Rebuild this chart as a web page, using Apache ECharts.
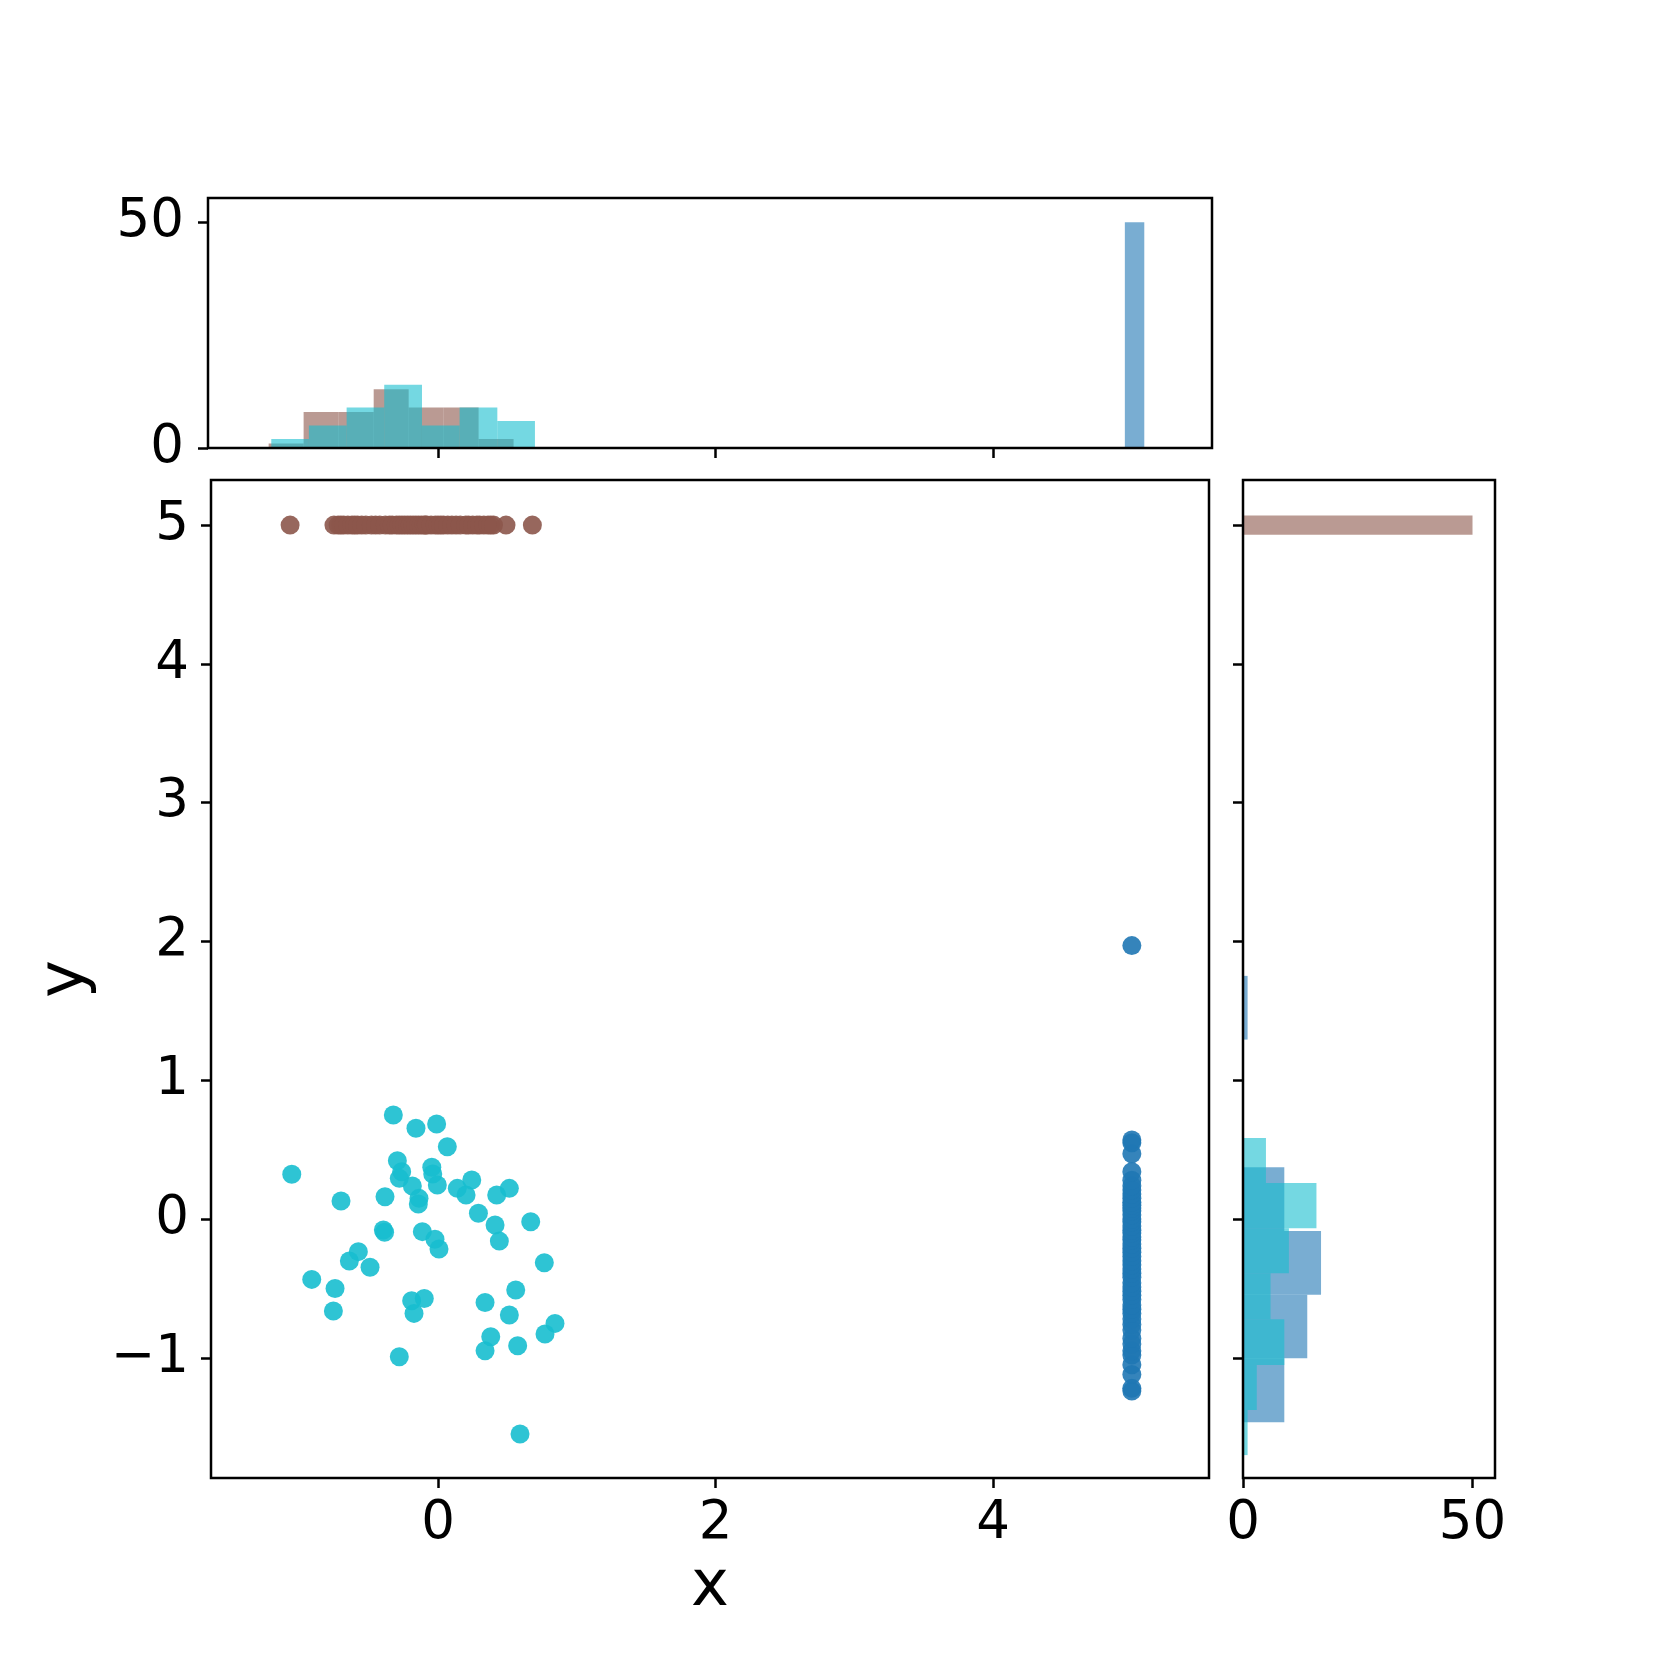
<!DOCTYPE html>
<html>
<head>
<meta charset="utf-8">
<script src="https://cdn.jsdelivr.net/npm/echarts@6/dist/echarts.min.js"></script>
<style>
html,body{margin:0;padding:0;background:#fff;}
#chart{width:1661px;height:1661px;}
</style>
</head>
<body>
<div id="chart"></div>
<script>
// ---------- data ----------
const brownX = [-1.066,
  -0.75,-0.72,-0.70,-0.68,-0.65,-0.62,-0.60,-0.58,
  -0.55,-0.52,-0.48,-0.45,-0.42,-0.38,-0.35,-0.33,
  -0.30,-0.28,-0.26,-0.24,-0.22,-0.20,-0.18,-0.16,-0.14,-0.12,-0.10,-0.09,-0.08,
  -0.05,-0.02,0.00,0.02,0.04,0.07,0.10,0.13,0.16,
  0.20,0.22,0.25,0.28,0.30,0.33,0.36,0.38,0.40,
  0.49,0.68];
const brownYValue = 5;

const tealX = [-0.322,-0.159,-0.010,0.067,-1.054,-0.293,-0.262,-0.279,-0.185,-0.137,
  -0.142,-0.045,-0.038,-0.005,0.139,0.202,0.243,0.423,0.514,-0.699,
  -0.382,0.291,0.411,0.442,0.668,-0.394,-0.385,-0.113,-0.022,0.007,
  -0.574,-0.639,-0.490,-0.910,-0.742,-0.754,-0.190,-0.099,-0.173,0.766,
  0.560,0.339,0.514,0.843,0.771,0.380,0.339,0.574,-0.279,0.591];
const tealY = [0.749,0.654,0.685,0.521,0.322,0.420,0.341,0.293,0.238,0.149,
  0.108,0.373,0.324,0.245,0.221,0.173,0.281,0.173,0.221,0.130,
  0.161,0.041,-0.043,-0.159,-0.019,-0.079,-0.095,-0.091,-0.146,-0.216,
  -0.235,-0.303,-0.348,-0.435,-0.500,-0.663,-0.589,-0.572,-0.680,-0.315,
  -0.512,-0.601,-0.692,-0.752,-0.829,-0.848,-0.949,-0.913,-0.992,-1.549];

const blueXValue = 5.0;
const blueY = [-1.24,-1.22,-1.12,-1.05,-0.98,-0.95,-0.90,-0.86,-0.80,
  -0.76,-0.72,-0.68,-0.65,-0.62,-0.58,-0.55,-0.52,-0.49,-0.46,-0.42,-0.39,-0.36,-0.33,
  -0.30,-0.27,-0.24,-0.21,-0.18,-0.15,-0.13,-0.10,-0.08,-0.05,-0.02,0.00,0.03,0.06,0.08,0.10,0.12,
  0.15,0.18,0.21,0.24,0.28,0.34,0.47,0.55,0.57,
  1.97];

// marginal histograms (bin edges + counts)
const topBrownEdges = [-1.220,-0.968,-0.716,-0.463,-0.211,0.041,0.293,0.545];
const topBrownCounts = [1,8,8,13,9,9,2];
const topTealEdges = [-1.201,-0.930,-0.658,-0.387,-0.115,0.156,0.428,0.699];
const topTealCounts = [2,5,9,14,5,9,6];
const topBlueEdges = [4.95,5.09];
const topBlueCounts = [50];

const rightBrownEdges = [4.93,5.07];
const rightBrownCounts = [50];
const rightTealEdges = [-1.701,-1.376,-1.052,-0.723,-0.391,-0.067,0.260,0.584];
const rightTealCounts = [1,3,9,6,10,16,5];
const rightBlueEdges = [-1.465,-1.004,-0.546,-0.086,0.373,0.833,1.293,1.752];
const rightBlueCounts = [9,14,17,9,0,0,1];

const mainXTicks = [0,2,4];
const mainYTicks = [-1,0,1,2,3,4,5];
const countTicks = [0,50];

// ---------- styling ----------
const C_BROWN = '#8c564b', C_TEAL = '#17becf', C_BLUE = '#1f77b4';
const FONT = 'DejaVu Sans';
const TICK_FS = 53, LABEL_FS = 64;
const LW = 2.5;
const fmt = v => String(v).replace('-', '\u2212');

function bins(edges, counts){
  const out = [];
  for (let i = 0; i < counts.length; i++) {
    if (counts[i] > 0) out.push([edges[i], edges[i+1], counts[i]]);
  }
  return out;
}
function vHist(xi, yi, data, color, z){
  return {
    type:'custom', xAxisIndex:xi, yAxisIndex:yi, z:z, clip:true,
    encode:{x:[0,1], y:2},
    data:data,
    renderItem:function(params, api){
      const p0 = api.coord([api.value(0), 0]);
      const p1 = api.coord([api.value(1), api.value(2)]);
      return {type:'rect', shape:{x:p0[0], y:p1[1], width:p1[0]-p0[0], height:p0[1]-p1[1]},
        style:{fill:color, opacity:0.6}};
    }
  };
}
function hHist(xi, yi, data, color, z){
  return {
    type:'custom', xAxisIndex:xi, yAxisIndex:yi, z:z, clip:true,
    encode:{y:[0,1], x:2},
    data:data,
    renderItem:function(params, api){
      const p0 = api.coord([0, api.value(0)]);
      const p1 = api.coord([api.value(2), api.value(1)]);
      return {type:'rect', shape:{x:p0[0], y:p1[1], width:p1[0]-p0[0], height:p0[1]-p1[1]},
        style:{fill:color, opacity:0.6}};
    }
  };
}
function tick(values){
  return {show:true, inside:false, length:10, customValues:values, lineStyle:{color:'#000', width:LW}};
}
function label(values, margin){
  return {show:true, customValues:values, formatter:fmt, color:'#000', fontFamily:FONT, fontSize:TICK_FS, margin:margin};
}
const noLabel = {show:false};
const hiddenLine = {show:false, onZero:false};
const gridBase = {show:true, borderColor:'#000', borderWidth:LW, backgroundColor:'transparent', z:10};

const chart = echarts.init(document.getElementById('chart'), null, {renderer:'canvas'});
chart.setOption({
  animation:false,
  backgroundColor:'#fff',
  grid:[
    Object.assign({left:211, top:480, width:998, height:998}, gridBase),
    Object.assign({left:208, top:198, width:1004, height:250}, gridBase),
    Object.assign({left:1243, top:480, width:252, height:998}, gridBase)
  ],
  xAxis:[
    {type:'value', gridIndex:0, position:'bottom', min:-1.636, max:5.556, axisLine:hiddenLine, splitLine:{show:false},
     axisTick:tick(mainXTicks), axisLabel:label(mainXTicks, 20),
     name:'x', nameLocation:'middle', nameGap:78,
     nameTextStyle:{color:'#000', fontFamily:FONT, fontSize:LABEL_FS}},
    {type:'value', gridIndex:1, position:'bottom', min:-1.657, max:5.578, axisLine:hiddenLine, splitLine:{show:false},
     axisTick:tick(mainXTicks), axisLabel:noLabel},
    {type:'value', gridIndex:2, position:'bottom', min:0, max:54.9, axisLine:hiddenLine, splitLine:{show:false},
     axisTick:tick(countTicks), axisLabel:label(countTicks, 20)}
  ],
  yAxis:[
    {type:'value', gridIndex:0, position:'left', min:-1.866, max:5.325, axisLine:hiddenLine, splitLine:{show:false},
     axisTick:tick(mainYTicks), axisLabel:label(mainYTicks, 22),
     name:'y', nameLocation:'middle', nameGap:113, nameRotate:90,
     nameTextStyle:{color:'#000', fontFamily:FONT, fontSize:LABEL_FS}},
    {type:'value', gridIndex:1, position:'left', min:0, max:55.4, axisLine:hiddenLine, splitLine:{show:false},
     axisTick:tick(countTicks), axisLabel:label(countTicks, 24)},
    {type:'value', gridIndex:2, position:'left', min:-1.866, max:5.325, axisLine:hiddenLine, splitLine:{show:false},
     axisTick:tick(mainYTicks), axisLabel:noLabel}
  ],
  series:[
    {type:'scatter', xAxisIndex:0, yAxisIndex:0, z:3, symbolSize:19,
     data:brownX.map(x => [x, brownYValue]),
     itemStyle:{color:C_BROWN, opacity:0.9}},
    {type:'scatter', xAxisIndex:0, yAxisIndex:0, z:3, symbolSize:19,
     data:tealX.map((x,i) => [x, tealY[i]]),
     itemStyle:{color:C_TEAL, opacity:0.9}},
    {type:'scatter', xAxisIndex:0, yAxisIndex:0, z:3, symbolSize:19,
     data:blueY.map(y => [blueXValue, y]),
     itemStyle:{color:C_BLUE, opacity:0.9}},
    vHist(1, 1, bins(topBrownEdges, topBrownCounts), C_BROWN, 2),
    vHist(1, 1, bins(topBlueEdges, topBlueCounts), C_BLUE, 3),
    vHist(1, 1, bins(topTealEdges, topTealCounts), C_TEAL, 4),
    hHist(2, 2, bins(rightBrownEdges, rightBrownCounts), C_BROWN, 2),
    hHist(2, 2, bins(rightBlueEdges, rightBlueCounts), C_BLUE, 3),
    hHist(2, 2, bins(rightTealEdges, rightTealCounts), C_TEAL, 4)
  ]
});
</script>
</body>
</html>
